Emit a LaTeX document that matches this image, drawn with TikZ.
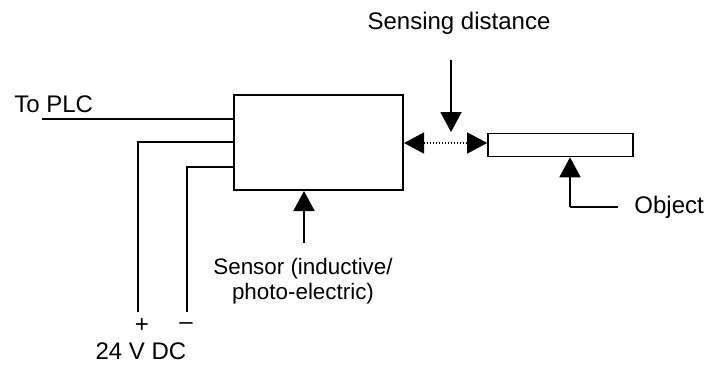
\documentclass[tikz,border=0pt]{standalone}
\usepackage{fontspec}
\setmainfont{Liberation Sans}
\usetikzlibrary{arrows.meta}
\tikzset{
  wire/.style={line width=1pt},
  pointer/.style={line width=1pt,-{Triangle[length=10pt,width=10.5pt]}},
  unit/.style={draw,line width=1pt,inner sep=0pt},
  lbl/.style={inner sep=0pt,font=\fontsize{12}{14.5}\selectfont,align=center}
}
\begin{document}
\begin{tikzpicture}[x=0.5pt,y=-0.5pt]
\useasboundingbox (0,0) rectangle (704,365);
% sensor and object
\node[unit,minimum width=84.5pt,minimum height=47.5pt] (sensor) at (318.5,142.5) {};
\node[unit,line width=0.8pt,minimum width=72.5pt,minimum height=11.5pt] (object) at (560.5,145) {};
% supply and PLC wires
\node[lbl,anchor=base west] (plc) at (14,112) {To PLC};
\coordinate (plcend) at (42,119);
\draw[wire] (plcend) -- (sensor.west |- plcend);
\coordinate (plus) at (138,312);
\coordinate (minus) at (187,312);
\draw[wire] (plus) |- (sensor.west |- 0,142);
\draw[wire] (minus) |- (sensor.west |- 0,167);
\node[lbl] (plussign) at (142,326) {+};
\node[lbl] (minussign) at (186,326) {–};
\node[lbl] (supply) at (141,351) {24 V DC};
% sensor label
\node[lbl,font=\fontsize{11.2}{12.5}\selectfont] (sensorlbl) at (303,281) {Sensor (inductive/\\photo-electric)};
\coordinate (sensortail) at (304,243);
\draw[pointer] (sensortail) -- (sensortail |- sensor.south);
% sensing distance
\node[lbl] (distlbl) at (459,23) {Sensing distance};
\coordinate (disttop) at (451,60);
\coordinate (disttip) at (451,132);
\draw[pointer] (disttop) -- (disttip);
\draw[line width=0.7pt,dash pattern=on 0.7pt off 0.8pt,{Triangle[length=10pt,width=10.5pt]}-{Triangle[length=10pt,width=10.5pt]}] (sensor.east |- 0,143) -- (object.west |- 0,143);
% object label
\node[lbl,anchor=west] (objlbl) at (634,207) {Object};
\coordinate (objcorner) at (570,207);
\draw[wire] (objlbl.west) ++(-16,0) -- (objcorner);
\draw[pointer] (objcorner) -- (objcorner |- object.south);
\end{tikzpicture}
\end{document}
